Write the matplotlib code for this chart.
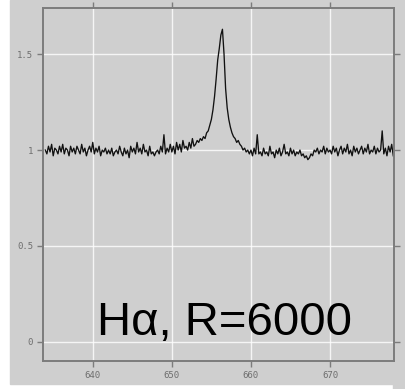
import matplotlib
matplotlib.use("Agg")
import matplotlib.pyplot as plt
import numpy as np
from matplotlib.patches import Rectangle

# wavelength grid (nm), 0.2 nm sampling
wl = np.linspace(634.0, 678.0, 221)

# normalised flux
flux = [
    1.00, 0.98, 1.02, 0.99, 1.03, 0.97, 1.01, 1.00, 0.98, 1.02,
    0.99, 1.03, 0.98, 1.01, 1.00, 0.97, 1.02, 0.99, 1.01, 0.98,
    1.02, 1.00, 0.98, 1.03, 0.99, 1.01, 0.97, 1.00, 1.02, 0.99,
    1.04, 0.98, 1.01, 0.99, 1.02, 0.97, 1.00, 0.99, 1.01, 0.98,
    1.00, 0.98, 1.01, 0.97, 0.99, 1.00, 0.98, 1.02, 0.99, 0.97,
    1.01, 0.98, 1.00, 0.96, 1.02, 0.99, 1.01, 0.98, 1.04, 0.99,
    1.01, 0.98, 1.03, 0.99, 1.00, 0.97, 1.02, 0.98, 0.99, 0.97,
    0.99, 1.00, 0.98, 1.02, 0.99, 1.08, 0.98, 1.01, 0.99, 1.03,
    0.99, 1.02, 0.98, 1.04, 1.00, 1.03, 0.99, 1.05, 1.01, 1.02,
    1.00, 1.04, 1.01, 1.06, 1.02, 1.03, 1.05, 1.04, 1.06, 1.05,
    1.07, 1.06, 1.09, 1.10, 1.13, 1.16, 1.21, 1.28, 1.37, 1.47,
    1.53, 1.60, 1.63, 1.50, 1.32, 1.22, 1.16, 1.12, 1.09, 1.07,
    1.06, 1.04, 1.05, 1.03, 1.02, 1.00, 1.01, 0.99, 1.00, 0.98,
    1.00, 0.97, 1.01, 0.98, 1.08, 0.98, 0.99, 0.97, 1.01, 0.98,
    0.99, 0.97, 1.02, 0.98, 0.99, 0.96, 1.00, 0.98, 1.01, 0.97,
    0.99, 1.03, 0.98, 0.99, 0.97, 1.01, 0.98, 1.00, 0.97, 0.99,
    0.98, 1.00, 0.97, 0.98, 0.96, 0.97, 0.95, 0.96, 0.98, 0.97,
    1.00, 0.99, 1.01, 0.98, 1.00, 0.99, 1.02, 0.98, 1.01, 0.99,
    1.00, 0.98, 1.02, 0.99, 1.01, 0.97, 1.00, 1.02, 0.98, 1.01,
    0.99, 1.03, 0.98, 1.00, 0.97, 1.02, 0.99, 1.01, 0.98, 1.00,
    1.02, 0.98, 1.01, 0.99, 1.03, 0.98, 1.00, 0.99, 1.02, 0.98,
    1.01, 0.99, 1.00, 1.10, 0.98, 1.01, 0.97, 1.02, 0.99, 1.03,
    0.97,
]

xticks = [640, 650, 660, 670]
yticks = [0, 0.5, 1, 1.5]
yticklabels = ["0", "0.5", "1", "1.5"]
label = "H\u03b1, R=6000"

bg = "#cfcfcf"
spine = "#7c7c7c"

fig = plt.figure(figsize=(4.05, 3.89), dpi=100, facecolor="white")
# grey panel behind everything (picture is cropped a bit on left/bottom)
fig.patches.append(Rectangle((10/405, 5/389), 395/405, 384/389,
                             transform=fig.transFigure, color=bg, zorder=-10))
fig.patches.append(Rectangle((393/405, 0), 12/405, 6/389,
                             transform=fig.transFigure, color=bg, zorder=-10))

ax = fig.add_axes([0.106, 0.072, 0.867, 0.907])
ax.set_facecolor(bg)
ax.plot(wl, flux, color="#111111", lw=0.95)

ax.set_xlim(633.7, 678.1)
ax.set_ylim(-0.1, 1.74)
ax.set_xticks(xticks)
ax.set_yticks(yticks)
ax.set_yticklabels(yticklabels)
ax.grid(True, color="white", lw=1.0, alpha=0.8)
ax.set_axisbelow(True)

for s in ax.spines.values():
    s.set_color(spine)
    s.set_linewidth(1.4)

ax.tick_params(axis="both", direction="out", length=4, width=1, color=spine,
               labelcolor="#6e6e6e", labelsize=6.5, pad=3,
               top=True, right=True)
for t in ax.get_xticklabels() + ax.get_yticklabels():
    t.set_family("DejaVu Sans Mono")

ax.text(0.154, 0.074, label, transform=ax.transAxes, fontsize=34,
        family="Liberation Sans", color="black", va="baseline", ha="left")

fig.savefig("out.png", dpi=100, facecolor=fig.get_facecolor())
